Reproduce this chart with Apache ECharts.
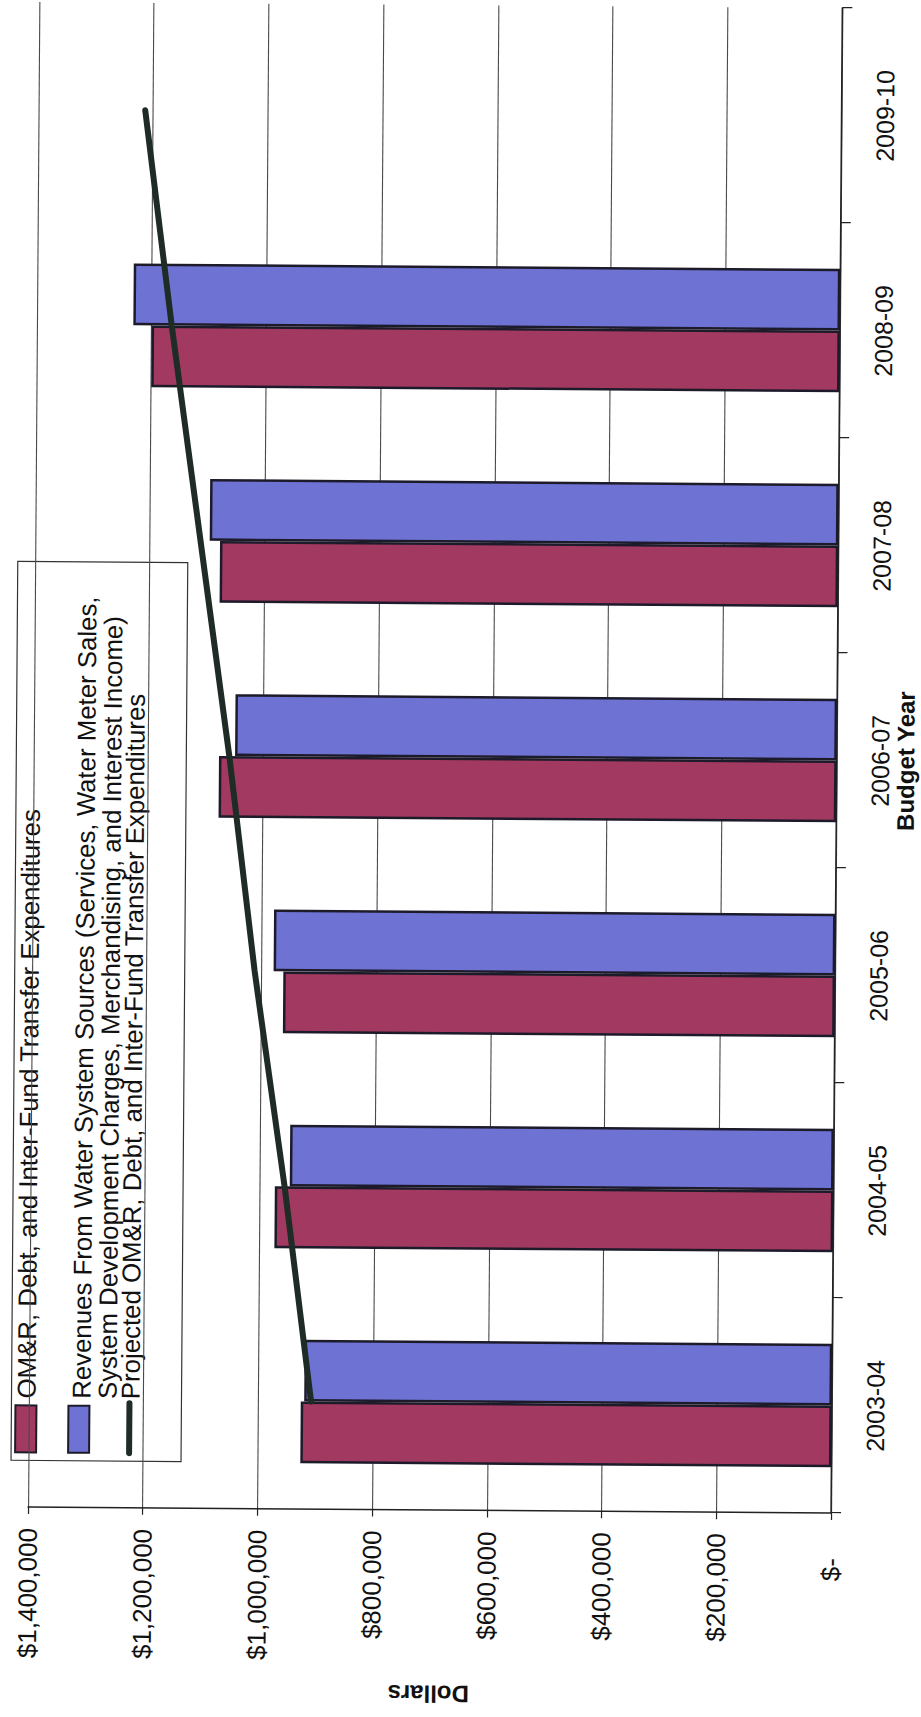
<!DOCTYPE html>
<html>
<head>
<meta charset="utf-8">
<title>Water System Budget</title>
<script src="https://cdn.jsdelivr.net/npm/echarts@6/dist/echarts.min.js"></script>
<style>
  html, body { margin: 0; padding: 0; background: #ffffff; }
  #page { position: relative; width: 921px; height: 1717px; overflow: hidden; background: #ffffff; }
  /* the printed sheet sits very slightly askew */
  #sheet {
    position: absolute; left: 0; top: 0; width: 921px; height: 1717px;
    transform-origin: 829px 1520px;
    transform: rotate(0.43deg);
  }
  /* chart is laid out landscape and turned a quarter turn counter-clockwise onto the portrait page */
  #chart {
    position: absolute; left: 0; top: 0;
    width: 1717px; height: 921px;
    transform-origin: 0 0;
    transform: translate(0px, 1717px) rotate(-90deg);
  }
</style>
</head>
<body>
<div id="page"><div id="sheet"><div id="chart"></div></div></div>
<script>
// Budget years (category axis)
const years = ['2003-04', '2004-05', '2005-06', '2006-07', '2007-08', '2008-09', '2009-10'];

// OM&R, debt and inter-fund transfer expenditures ($)
const expenditures = [926000, 974000, 962000, 1077000, 1078000, 1200000, null];

// Revenues from water system sources ($)
const revenues = [920000, 948000, 979000, 1049000, 1096000, 1232000, null];

// Projected OM&R, debt and inter-fund transfer expenditures ($)
const projected = [908000, 957000, 1012000, 1059000, 1112000, 1165000, 1214000];

// Dollar axis ticks
const dollarTicks = [0, 200000, 400000, 600000, 800000, 1000000, 1200000, 1400000];

// Series names and the legend text lines for each entry
const seriesNames = [
  'OM&R, Debt, and Inter-Fund Transfer Expenditures',
  'Revenues From Water System Sources (Services, Water Meter Sales, System Development Charges, Merchandising, and Interest Income)',
  'Projected OM&R, Debt, and Inter-Fund Transfer Expenditures'
];
const legendLines = [
  ['OM&R, Debt, and Inter-Fund Transfer Expenditures'],
  ['Revenues From Water System Sources (Services, Water Meter Sales,',
   'System Development Charges, Merchandising, and Interest Income)'],
  ['Projected OM&R, Debt, and Inter-Fund Transfer Expenditures']
];

const RED = '#a13961';
const BLUE = '#6d72d3';
const EDGE = '#1d1b2a';
const LINE = '#1f2c26';
const SANS = '"Liberation Sans", Arial, sans-serif';
const NARROW = '"Liberation Sans Narrow", "Arial Narrow", "Liberation Sans", sans-serif';
const LEGEND_FONT = '25.8px ' + SANS;

function dollars(v) {
  if (v === 0) return '{z|$-}';
  return '$' + v.toLocaleString('en-US');
}

const chart = echarts.init(document.getElementById('chart'), null, { renderer: 'svg' });

// legend drawn as a boxed key: swatch/line icon followed by text rows
const legendGraphic = {
  type: 'group',
  left: 250, top: 10,
  children: [
    { type: 'rect', shape: { x: 0, y: 0, width: 899, height: 170 },
      style: { fill: '#ffffff', stroke: '#333333', lineWidth: 1.2 } },
    { type: 'rect', shape: { x: 8, y: 4, width: 47, height: 21 },
      style: { fill: RED, stroke: EDGE, lineWidth: 2 } },
    { type: 'rect', shape: { x: 8, y: 57, width: 47, height: 21 },
      style: { fill: BLUE, stroke: EDGE, lineWidth: 2 } },
    { type: 'line', shape: { x1: 8, y1: 118, x2: 58, y2: 118 },
      style: { stroke: LINE, lineWidth: 6, lineCap: 'round' } },
    { type: 'text', x: 62, y: 15,
      style: { text: legendLines[0][0], font: LEGEND_FONT, fill: '#111', verticalAlign: 'middle' } },
    { type: 'text', x: 62, y: 70,
      style: { text: legendLines[1][0], font: LEGEND_FONT, fill: '#111', verticalAlign: 'middle' } },
    { type: 'text', x: 62, y: 96,
      style: { text: legendLines[1][1], font: LEGEND_FONT, fill: '#111', verticalAlign: 'middle' } },
    { type: 'text', x: 62, y: 119,
      style: { text: legendLines[2][0], font: LEGEND_FONT, fill: '#111', verticalAlign: 'middle' } }
  ]
};

chart.setOption({
  backgroundColor: '#ffffff',
  animation: false,
  grid: { left: 200, right: 8, top: 28, bottom: 90, containLabel: false },
  xAxis: {
    type: 'category',
    data: years,
    boundaryGap: true,
    axisLine: { show: true, lineStyle: { color: '#222', width: 1.5 } },
    axisTick: { show: true, alignWithLabel: false, length: 10, lineStyle: { color: '#222', width: 1.2 } },
    axisLabel: { interval: 0, margin: 31, fontSize: 25, fontFamily: NARROW, color: '#111' },
    splitLine: { show: false },
    name: 'Budget Year',
    nameLocation: 'middle',
    nameGap: 57,
    nameMoveOverlap: false,
    nameTextStyle: { fontSize: 24, fontWeight: 'bold', fontFamily: NARROW, color: '#111' }
  },
  yAxis: {
    type: 'value',
    min: dollarTicks[0],
    max: dollarTicks[dollarTicks.length - 1],
    interval: dollarTicks[1] - dollarTicks[0],
    axisLine: { show: true, lineStyle: { color: '#222', width: 1.5 } },
    axisTick: { show: true, length: 7, lineStyle: { color: '#222', width: 1.2 } },
    axisLabel: {
      margin: 21, fontSize: 26, fontFamily: SANS, color: '#111',
      formatter: dollars,
      rich: { z: { fontSize: 26, fontFamily: SANS, color: '#111', padding: [0, 24, 0, 0] } }
    },
    splitLine: { show: true, lineStyle: { color: '#4a4a4a', width: 1.1 } },
    name: 'Dollars',
    nameLocation: 'middle',
    nameGap: 172,
    nameMoveOverlap: false,
    nameTextStyle: { fontSize: 24, fontWeight: 'bold', fontFamily: NARROW, color: '#111' }
  },
  series: [
    {
      name: seriesNames[0], type: 'bar', data: expenditures,
      barGap: '0%', barCategoryGap: '42.5%',
      itemStyle: { color: RED, borderColor: EDGE, borderWidth: 2.5 }
    },
    {
      name: seriesNames[1], type: 'bar', data: revenues,
      barGap: '0%', barCategoryGap: '42.5%',
      itemStyle: { color: BLUE, borderColor: EDGE, borderWidth: 2.5 }
    },
    {
      name: seriesNames[2], type: 'line', data: projected,
      symbol: 'none', z: 5,
      lineStyle: { color: LINE, width: 6, cap: 'round' }
    }
  ],
  graphic: [legendGraphic]
});
</script>
</body>
</html>
